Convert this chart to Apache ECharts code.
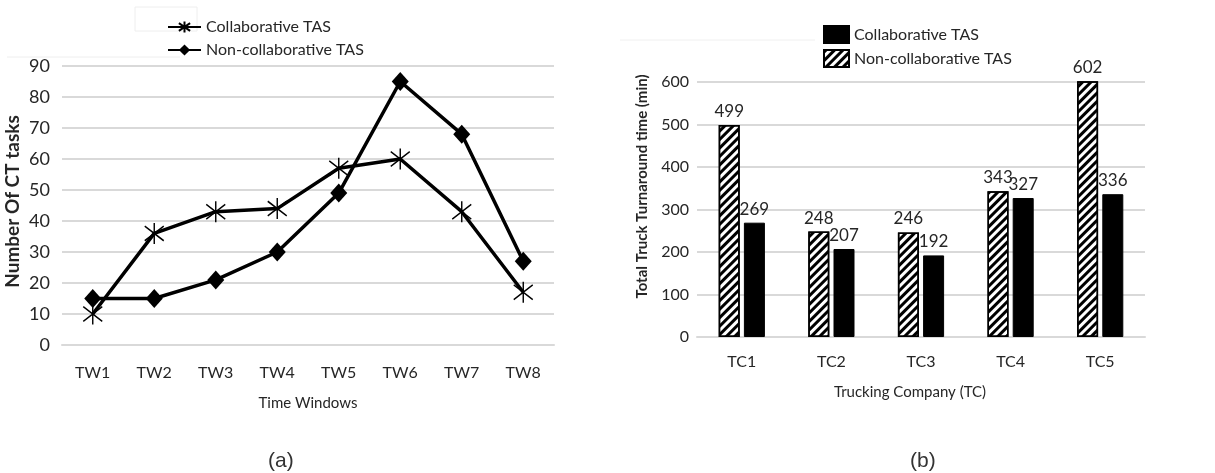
<!DOCTYPE html>
<html>
<head>
<meta charset="utf-8">
<script src="https://cdn.jsdelivr.net/npm/echarts@6/dist/echarts.min.js"></script>
<style>
html,body{margin:0;padding:0;background:#fff;}
#main{width:1215px;height:473px;}
</style>
</head>
<body>
<div id="main"></div>
<script>
// ---- Chart (a) data ----
const timeWindows = ['TW1','TW2','TW3','TW4','TW5','TW6','TW7','TW8'];
const collabTasks = [10, 36, 43, 44, 57, 60, 43, 17];
const nonCollabTasks = [15, 15, 21, 30, 49, 85, 68, 27];
const tasksTicks = {min: 0, max: 90, interval: 10};

// ---- Chart (b) data ----
const companies = ['TC1','TC2','TC3','TC4','TC5'];
const collabTurnaround = [269, 207, 192, 327, 336];
const nonCollabTurnaround = [499, 248, 246, 343, 602];
const turnaroundTicks = {min: 0, max: 600, interval: 100};

const FONT = 'Lato, "Open Sans", sans-serif';
const TXT = '#262626';
const GRIDC = '#d9d9d9';
const asterisk = 'path://M10,0 L10,20 M1,3 L19,17 M1,17 L19,3';

const chart = echarts.init(document.getElementById('main'), null, {renderer: 'canvas'});
const strip = n => n.replace(/^[ab]:/, '');

const hatch = {
  color: '#fff', borderColor: '#000', borderWidth: 1.5,
  decal: {symbol: 'rect', symbolSize: 1, color: '#000', dashArrayX: [1, 0], dashArrayY: [3, 3], rotation: -Math.PI / 4}
};

chart.setOption({
  animation: false,
  backgroundColor: '#fff',
  textStyle: {fontFamily: FONT, color: TXT},
  grid: [
    {left: 62, right: 1215 - 554, top: 66, bottom: 473 - 345, containLabel: false},
    {left: 697, right: 1215 - 1145, top: 82, bottom: 473 - 337, containLabel: false}
  ],
  legend: [
    {
      orient: 'vertical', left: 162, top: 14, itemWidth: 33, itemHeight: 14, itemGap: 7,
      data: ['a:Collaborative TAS', 'a:Non-collaborative TAS'],
      formatter: strip,
      textStyle: {fontFamily: FONT, fontSize: 16, color: TXT, padding: [0, 0, 0, 0]}
    },
    {
      orient: 'vertical', left: 818, top: 20, itemWidth: 25, itemHeight: 17, itemGap: 5,
      icon: 'rect',
      data: ['b:Collaborative TAS', 'b:Non-collaborative TAS'],
      formatter: strip,
      textStyle: {fontFamily: FONT, fontSize: 16, color: TXT, padding: [0, 0, 0, 0]}
    }
  ],
  xAxis: [
    {
      gridIndex: 0, type: 'category', data: timeWindows, boundaryGap: true,
      axisLine: {show: true, lineStyle: {color: GRIDC, width: 2}}, axisTick: {show: false},
      axisLabel: {fontSize: 16, color: TXT, margin: 20, fontFamily: FONT},
      name: 'Time Windows', nameLocation: 'middle', nameGap: 51,
      nameTextStyle: {fontSize: 15, color: TXT, fontFamily: FONT}
    },
    {
      gridIndex: 1, type: 'category', data: companies, boundaryGap: true,
      axisLine: {show: true, lineStyle: {color: GRIDC, width: 2}}, axisTick: {show: false},
      axisLabel: {fontSize: 16, color: TXT, margin: 17, fontFamily: FONT},
      name: 'Trucking Company (TC)', nameLocation: 'middle', nameGap: 48,
      nameTextStyle: {fontSize: 15, color: TXT, fontFamily: FONT, padding: [0, 22, 0, 0]}
    }
  ],
  yAxis: [
    {
      gridIndex: 0, type: 'value', min: tasksTicks.min, max: tasksTicks.max, interval: tasksTicks.interval,
      axisLine: {show: false}, axisTick: {show: false},
      splitLine: {lineStyle: {color: GRIDC, width: 2}},
      axisLabel: {fontSize: 18, color: TXT, margin: 12, fontFamily: FONT},
      name: 'Number Of CT tasks', nameLocation: 'middle', nameGap: 40,
      nameTextStyle: {fontSize: 19, color: TXT, fontFamily: FONT, fontWeight: 'bold', padding: [0, 0, 0, 8]}
    },
    {
      gridIndex: 1, type: 'value', min: turnaroundTicks.min, max: turnaroundTicks.max, interval: turnaroundTicks.interval,
      axisLine: {show: false}, axisTick: {show: false},
      splitLine: {lineStyle: {color: GRIDC, width: 2}},
      axisLabel: {fontSize: 16, color: TXT, margin: 8, fontFamily: FONT},
      name: 'Total Truck Turnaround time (min)', nameLocation: 'middle', nameGap: 47,
      nameTextStyle: {fontSize: 15, color: TXT, fontFamily: FONT, fontWeight: 'bold', padding: [0, 0, 0, 46]}
    }
  ],
  series: [
    {
      name: 'a:Collaborative TAS', type: 'line', xAxisIndex: 0, yAxisIndex: 0, data: collabTasks,
      symbol: asterisk, symbolSize: [19, 21], symbolKeepAspect: false,
      itemStyle: {color: '#000', borderColor: '#000', borderWidth: 1.5},
      lineStyle: {color: '#000', width: 3.5}, z: 3
    },
    {
      name: 'a:Non-collaborative TAS', type: 'line', xAxisIndex: 0, yAxisIndex: 0, data: nonCollabTasks,
      symbol: 'diamond', symbolSize: [17, 19],
      itemStyle: {color: '#000'},
      lineStyle: {color: '#000', width: 3.5}, z: 3
    },
    {
      name: 'b:Non-collaborative TAS', type: 'bar', xAxisIndex: 1, yAxisIndex: 1, data: nonCollabTurnaround,
      barWidth: 21, barGap: '20%', clip: false,
      itemStyle: hatch,
      label: {show: true, position: 'top', distance: 5, fontSize: 17, color: TXT, fontFamily: FONT}
    },
    {
      name: 'b:Collaborative TAS', type: 'bar', xAxisIndex: 1, yAxisIndex: 1, data: collabTurnaround,
      barWidth: 21, barGap: '20%', clip: false,
      itemStyle: {color: '#000', borderColor: '#000', borderWidth: 1},
      label: {show: true, position: 'top', distance: 5, fontSize: 17, color: TXT, fontFamily: FONT}
    }
  ],
  graphic: [
    {type: 'text', left: 268, top: 451, style: {text: '(a)', font: '21px "Liberation Sans", Arial, sans-serif', fill: '#333'}},
    {type: 'text', left: 910, top: 451, style: {text: '(b)', font: '21px "Liberation Sans", Arial, sans-serif', fill: '#333'}},
    {type: 'line', shape: {x1: 7, y1: 57, x2: 180, y2: 57}, style: {stroke: '#eee', lineWidth: 1}, silent: true},
    {type: 'rect', shape: {x: 135, y: 7, width: 62, height: 24}, style: {fill: 'none', stroke: '#eee', lineWidth: 1}, silent: true},
    {type: 'line', shape: {x1: 620, y1: 40, x2: 815, y2: 40}, style: {stroke: '#f0f0f0', lineWidth: 1}, silent: true}
  ]
});
</script>
</body>
</html>
